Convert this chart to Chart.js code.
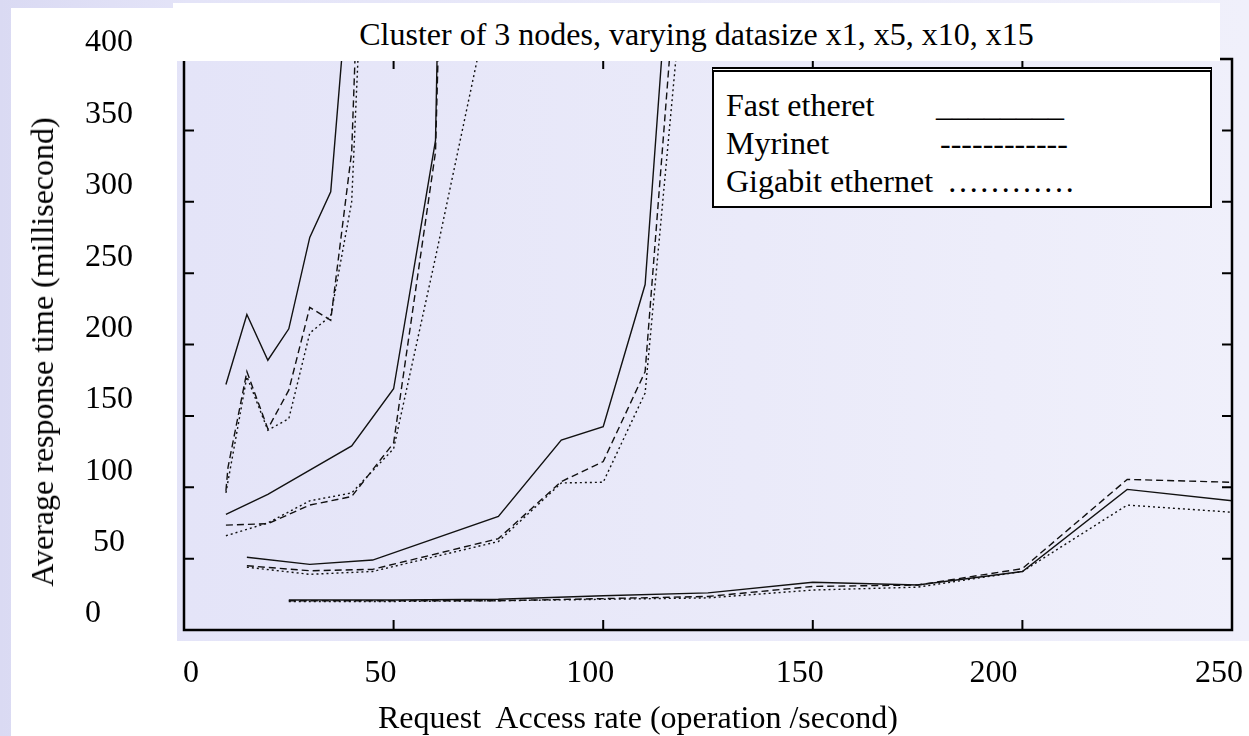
<!DOCTYPE html>
<html>
<head>
<meta charset="utf-8">
<script src="https://cdn.jsdelivr.net/npm/chart.js@4.4.1/dist/chart.umd.min.js"></script>
<style>
  html, body { margin: 0; padding: 0; }
  body {
    width: 1249px; height: 736px; position: relative; overflow: hidden;
    background: linear-gradient(90deg, #dadaf3 0%, #e4e4f8 15%, #eaeaf9 60%, #f0f0fb 100%);
    font-family: 'Liberation Serif', 'DejaVu Serif', serif;
    color: #000;
  }
  .panel { position: absolute; background: #fff; }
  #grafico { position: absolute; left: 0; top: 0; }
  .texto { position: absolute; font-size: 32px; line-height: 36px; white-space: pre; }
  #titulo {
    position: absolute; left: 173px; top: 3px; width: 1047px; height: 58px;
    box-sizing: border-box; padding-top: 3px; background: #fff;
    font-size: 32px; line-height: 56px; text-align: center; white-space: pre;
  }
  #eixoY {
    position: absolute; left: 42px; top: 352px; font-size: 32px; line-height: 32px;
    white-space: pre; transform: translate(-50%, -50%) rotate(-90deg);
  }
  #legenda {
    position: absolute; left: 712px; top: 67px; width: 500px; height: 141px;
    box-sizing: border-box; background: #fff;
    border: 2px solid #000; border-top: 5px double #000;
  }
</style>
</head>
<body>
<div class="panel" style="left:11px; top:8px; width:166px; height:728px;"></div>
<div class="panel" style="left:11px; top:641px; width:1238px; height:95px;"></div>

<canvas id="grafico" width="1249" height="736"></canvas>

<div id="titulo">Cluster of 3 nodes, varying datasize x1, x5, x10, x15</div>
<div id="eixoY">Average response time (millisecond)</div>
<div class="texto" style="left:378px; top:699px;">Request  Access rate (operation /second)</div>

<div id="legenda"></div>
<div class="texto" style="left:726px; top:87px;">Fast etheret</div>
<div class="texto" style="left:936px; top:87px;">________</div>
<div class="texto" style="left:726px; top:125px;">Myrinet</div>
<div class="texto" style="left:940px; top:125px;">------------</div>
<div class="texto" style="left:726px; top:163px;">Gigabit ethernet</div>
<div class="texto" style="left:947px; top:163px;">…………</div>

<script>
// --- DADOS ---
// datasize x15
const RATE_X15_FAST = [10, 15, 20, 25, 30, 35, 40];
const TIME_X15_FAST = [172, 221, 189, 211, 275, 307, 485];
const RATE_X15_MYRI = [10, 10.5, 15, 20, 25, 30, 35, 40, 42];
const TIME_X15_MYRI = [97.5, 114, 181, 141, 168, 226, 217, 335, 500];
const RATE_X15_GIGA = [10, 15, 20, 25, 30, 35, 40, 43];
const TIME_X15_GIGA = [96, 177.5, 140, 148, 208, 220, 300, 500];

// datasize x10
const RATE_X10_FAST = [10, 20, 40, 50, 60, 61];
const TIME_X10_FAST = [81, 95, 129, 169, 343, 500];
const RATE_X10_MYRI = [10, 20, 30, 40, 50, 60, 61.5];
const TIME_X10_MYRI = [73.5, 74.5, 87.5, 93.5, 131, 335, 500];
const RATE_X10_GIGA = [10, 20, 30, 40, 50, 60, 75];
const TIME_X10_GIGA = [66, 75, 90.5, 96, 127, 261, 470];

// datasize x5
const RATE_X5_FAST = [15, 30, 45, 75, 90, 100, 110, 116];
const TIME_X5_FAST = [51, 46, 49, 79.5, 133, 142.5, 242, 483];
const RATE_X5_MYRI = [15, 30, 45, 75, 90, 100, 110, 118];
const TIME_X5_MYRI = [45, 41.5, 42.5, 64, 104, 118, 181, 483];
const RATE_X5_GIGA = [15, 30, 45, 75, 90, 100, 110, 120];
const TIME_X5_GIGA = [44, 39, 41, 62, 103, 103.5, 166, 485];

// datasize x1
const RATE_X1 = [25, 50, 75, 100, 125, 150, 175, 200, 225, 250];
const TIME_X1_FAST = [21, 21, 21.5, 24, 26, 33.5, 31.5, 41, 98.5, 90.5];
const TIME_X1_MYRI = [20.5, 20.5, 20.5, 22, 23.5, 30.5, 31.5, 43, 105.5, 103.5];
const TIME_X1_GIGA = [20, 20, 20.5, 21.5, 22.5, 28, 30, 41, 87.5, 82.5];

// eixos
const X_MIN = 0, X_MAX = 250, X_STEP = 50;
const Y_MIN = 0, Y_MAX = 400, Y_STEP = 50;

// estilo de cada rede
const TRACO = { fast: [], myri: [7, 4], giga: [2, 3] };

// o original tem alguns rótulos fora do lugar: espaços empurram o texto
const AJUSTE_X = { 0: '     0', 200: '200    ' };
const AJUSTE_Y = { 50: ' 50' };

// --- MONTAGEM ---
function pontos(xs, ys) {
    return xs.map((x, i) => ({ x: x, y: ys[i] }));
}

function serie(rede, label, xs, ys) {
    return {
        label: label,
        data: pontos(xs, ys),
        borderColor: '#111',
        borderWidth: 1.4,
        borderDash: TRACO[rede],
        pointRadius: 0,
        tension: 0,
        fill: false
    };
}

const datasets = [
    serie('fast', 'Fast etheret x15', RATE_X15_FAST, TIME_X15_FAST),
    serie('myri', 'Myrinet x15', RATE_X15_MYRI, TIME_X15_MYRI),
    serie('giga', 'Gigabit ethernet x15', RATE_X15_GIGA, TIME_X15_GIGA),
    serie('fast', 'Fast etheret x10', RATE_X10_FAST, TIME_X10_FAST),
    serie('myri', 'Myrinet x10', RATE_X10_MYRI, TIME_X10_MYRI),
    serie('giga', 'Gigabit ethernet x10', RATE_X10_GIGA, TIME_X10_GIGA),
    serie('fast', 'Fast etheret x5', RATE_X5_FAST, TIME_X5_FAST),
    serie('myri', 'Myrinet x5', RATE_X5_MYRI, TIME_X5_MYRI),
    serie('giga', 'Gigabit ethernet x5', RATE_X5_GIGA, TIME_X5_GIGA),
    serie('fast', 'Fast etheret x1', RATE_X1, TIME_X1_FAST),
    serie('myri', 'Myrinet x1', RATE_X1, TIME_X1_MYRI),
    serie('giga', 'Gigabit ethernet x1', RATE_X1, TIME_X1_GIGA)
];

// moldura + marcas para dentro (estilo gnuplot)
const moldura = {
    id: 'moldura',
    afterDatasetsDraw(chart) {
        const { ctx, chartArea: a, scales: { x, y } } = chart;
        const tam = 10;
        ctx.save();
        ctx.strokeStyle = '#000';
        ctx.lineWidth = 2;
        ctx.beginPath();
        y.ticks.forEach(t => {
            const py = y.getPixelForValue(t.value);
            ctx.moveTo(a.left, py); ctx.lineTo(a.left + tam, py);
            ctx.moveTo(a.right, py); ctx.lineTo(a.right - tam, py);
        });
        x.ticks.forEach(t => {
            const px = x.getPixelForValue(t.value);
            ctx.moveTo(px, a.bottom); ctx.lineTo(px, a.bottom - tam);
            ctx.moveTo(px, a.top); ctx.lineTo(px, a.top + tam);
        });
        ctx.stroke();
        ctx.lineWidth = 2.5;
        ctx.strokeRect(a.left, a.top, a.right - a.left, a.bottom - a.top);
        ctx.restore();
    }
};

const fonteTicks = { family: "'Liberation Serif', 'DejaVu Serif', serif", size: 32 };

new Chart(document.getElementById('grafico'), {
    type: 'line',
    data: { datasets: datasets },
    options: {
        responsive: false,
        animation: false,
        devicePixelRatio: 1,
        layout: { padding: { left: 85, right: 17, top: 59, bottom: 0 } },
        plugins: {
            legend: { display: false },
            tooltip: { enabled: false },
            title: { display: false }
        },
        scales: {
            x: {
                type: 'linear',
                min: X_MIN, max: X_MAX,
                grid: { display: false, drawTicks: false },
                border: { display: false },
                ticks: {
                    stepSize: X_STEP, color: '#000', font: fonteTicks,
                    padding: 24, labelOffset: -13, maxRotation: 0,
                    callback: (v) => AJUSTE_X[v] !== undefined ? AJUSTE_X[v] : String(v)
                },
                afterFit: (s) => { s.height = 106; s.paddingLeft = 0; s.paddingRight = 0; }
            },
            y: {
                min: Y_MIN, max: Y_MAX,
                grid: { display: false, drawTicks: false },
                border: { display: false },
                ticks: {
                    stepSize: Y_STEP, color: '#000', font: fonteTicks,
                    crossAlign: 'far', labelOffset: -16,
                    callback: (v) => AJUSTE_Y[v] !== undefined ? AJUSTE_Y[v] : String(v)
                },
                afterFit: (s) => { s.width = 99; s.paddingTop = 0; s.paddingBottom = 0; }
            }
        }
    },
    plugins: [moldura]
});
</script>
</body>
</html>
